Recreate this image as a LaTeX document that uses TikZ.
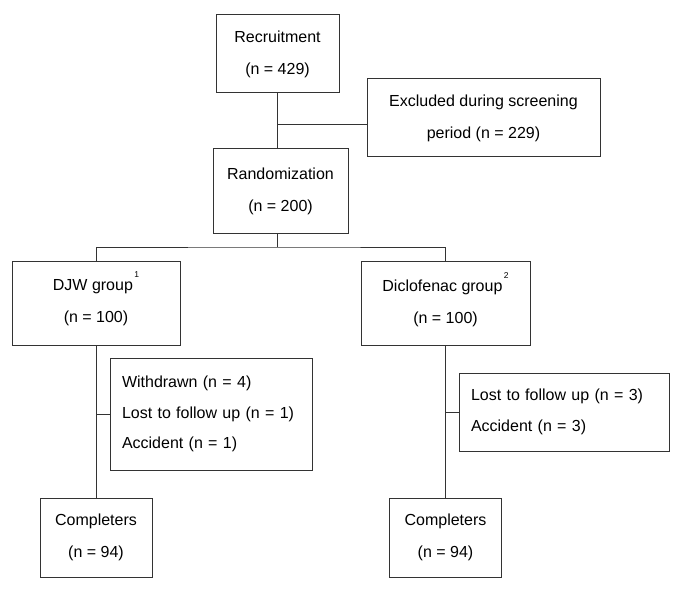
\documentclass[tikz,border=0pt]{standalone}
\usepackage{fontspec}
\setmainfont{Liberation Sans}
\newcommand{\supnum}[1]{\smash{\raisebox{13pt}{\fontsize{8.5}{10}\selectfont\,#1}}}
\begin{document}
\begin{tikzpicture}[x=1pt,y=-1pt,
    box/.style={draw=black!80, line width=1pt, inner sep=0pt, align=center,
        font=\fontsize{16}{32}\selectfont},
    listbox/.style={draw=black!80, line width=1pt, inner xsep=12pt, inner ysep=0pt,
        align=left, font=\fontsize{16}{30.5}\selectfont},
    link/.style={draw=black!80, line width=1pt}]
    \useasboundingbox (0,0) rectangle (685,596);
    % screening
    \node[box, minimum width=123pt, minimum height=78pt] (recruit) at (277.5,54) {Recruitment\\(n = 429)};
    \node[box, minimum width=233pt, minimum height=78pt] (excluded) at (483.5,118) {Excluded during screening\\period (n = 229)};
    \node[box, minimum width=135pt, minimum height=84pt] (random) at (280.5,191) {Randomization\\(n = 200)};
    % groups
    \node[box, minimum width=168pt, minimum height=84pt] (djw) at (96,303) {DJW group\supnum{1}\\(n = 100)};
    \node[box, minimum width=169pt, minimum height=84pt] (diclo) at (445.5,303) {Diclofenac group\supnum{2}\\(n = 100)};
    % drop-outs
    \node[listbox, text width=178pt, minimum height=112pt] (dropL) at (211,414) {Withdrawn (n = 4)\\Lost to follow up (n = 1)\\Accident (n = 1)};
    \node[listbox, text width=186pt, minimum height=78pt] (dropR) at (564,412) {Lost to follow up (n = 3)\\Accident (n = 3)};
    % completers
    \node[box, minimum width=112pt, minimum height=79pt] (complL) at (96,537.5) {Completers\\(n = 94)};
    \node[box, minimum width=112pt, minimum height=79pt] (complR) at (445.5,537.5) {Completers\\(n = 94)};

    \coordinate (split) at (277.5,125);
    \coordinate (fork) at (277.5,247);
    \draw[link] (recruit.south) -- (recruit.south |- random.north);
    \draw[link] (split) -- (split -| excluded.west);
    \draw[link] (recruit.south |- random.south) -- (fork);
    \draw[link] (djw.north) |- (fork) -| (diclo.north);
    \draw[link] (djw.south) -- (complL.north);
    \draw[link] (djw.south |- dropL.west) -- (dropL.west);
    \draw[link] (diclo.south) -- (complR.north);
    \draw[link] (diclo.south |- dropR.west) -- (dropR.west);
\end{tikzpicture}
\end{document}
